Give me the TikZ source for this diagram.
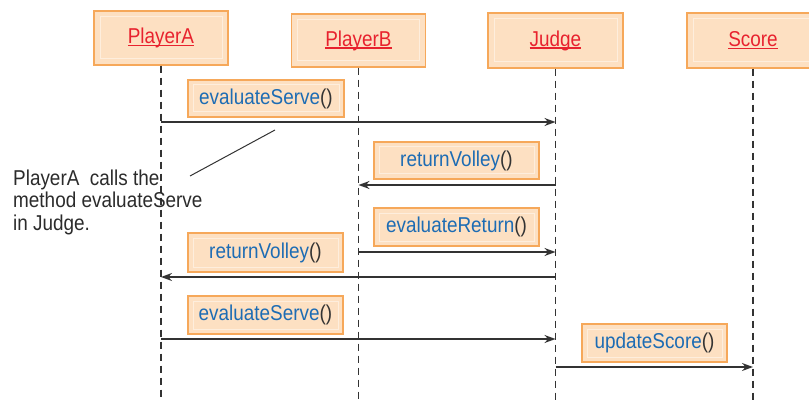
\documentclass[tikz,border=0pt]{standalone}
\usepackage{fontspec}
\setmainfont{Liberation Sans}[FakeStretch=0.88]
\usetikzlibrary{arrows.meta}
\definecolor{boxfill}{HTML}{FDE0C2}
\definecolor{boxdraw}{HTML}{F6A85A}
\definecolor{boxinner}{HTML}{FEEEDD}
\definecolor{namered}{HTML}{E8222E}
\definecolor{msgblue}{HTML}{1D6CB4}
\definecolor{linegray}{HTML}{333333}
\definecolor{textgray}{HTML}{2B2B2B}
\newcommand\myuline[1]{\setbox0\hbox{#1}\rlap{\rule[-2.6pt]{\wd0}{1.2pt}}\box0}
\newcommand\parens{\textcolor{linegray}{()}}
\begin{document}
\begin{tikzpicture}[x=1pt,y=-1pt,
  font=\fontsize{21.5}{24}\selectfont,
  innerline/.style={path picture={\draw[boxinner, line width=1pt]
      ([shift={(#1,-#1)}]path picture bounding box.north west) rectangle
      ([shift={(-#1,#1)}]path picture bounding box.south east);}},
  objbox/.style={draw=boxdraw, line width=1.3pt, fill=boxfill,
    minimum width=134pt, minimum height=54pt, inner sep=0pt,
    text=namered, innerline=6pt},
  msgbox/.style={draw=boxdraw, line width=1.3pt, fill=boxfill,
    minimum height=37pt, inner sep=0pt, text=msgblue, innerline=5pt},
  lifeline/.style={draw=linegray, line width=1.7pt, dash pattern=on 7pt off 5pt},
  msg/.style={draw=linegray, line width=1.4pt, -{Stealth[length=11pt,width=8pt]}},
]
\path[use as bounding box, clip] (0,0) rectangle (809,401);

% objects
\node[objbox] (A) at (161,38) {\myuline{PlayerA}};
\node[objbox, minimum height=53pt] (B) at (358.5,40.5) {\myuline{PlayerB}};
\node[objbox, minimum width=135pt, minimum height=55pt] (J) at (555.5,40.5) {\myuline{Judge}};
\node[objbox, minimum width=132pt, minimum height=55pt] (S) at (753,40.5) {\myuline{Score}};

% lifelines
\coordinate (Aend) at (161,401);
\coordinate (Bend) at (358.5,401);
\coordinate (Jend) at (555.5,401);
\coordinate (Send) at (753,401);
\draw[lifeline] (A.south) -- (Aend);
\draw[lifeline] (B.south) -- (Bend);
\draw[lifeline] (J.south) -- (Jend);
\draw[lifeline] (S.south) -- (Send);

% message labels
\node[msgbox, minimum width=156pt] (m1) at (266,98.5) {evaluateServe\parens};
\node[msgbox, minimum width=165pt] (m2) at (456.5,160.5) {returnVolley\parens};
\node[msgbox, minimum width=165pt, minimum height=38pt] (m3) at (456.5,227) {evaluateReturn\parens};
\node[msgbox, minimum width=155pt, minimum height=39pt] (m4) at (265.5,252.5) {returnVolley\parens};
\node[msgbox, minimum width=155pt, minimum height=38pt] (m5) at (265.5,315) {evaluateServe\parens};
\node[msgbox, minimum width=145pt, minimum height=38pt] (m6) at (654.5,343) {updateScore\parens};

% messages
\draw[msg] (A.south |- 0,122) -- (J.south |- 0,122);
\draw[msg] (J.south |- 0,185) -- (B.south |- 0,185);
\draw[msg] (B.south |- 0,252) -- (J.south |- 0,252);
\draw[msg] (J.south |- 0,277) -- (A.south |- 0,277);
\draw[msg] (A.south |- 0,339) -- (J.south |- 0,339);
\draw[msg] (J.south |- 0,367) -- (S.south |- 0,367);

% annotation
\node[anchor=base west, align=left, text=textgray, inner sep=0pt,
  font=\fontsize{21.5}{22.5}\selectfont] (note) at (13,230)
  {PlayerA\ \ calls the\\method evaluateServe\\in Judge.};
\coordinate (notestart) at (190,176);
\coordinate (noteend) at (275,130);
\draw[linegray, line width=1pt] (notestart) -- (noteend);
\end{tikzpicture}
\end{document}
